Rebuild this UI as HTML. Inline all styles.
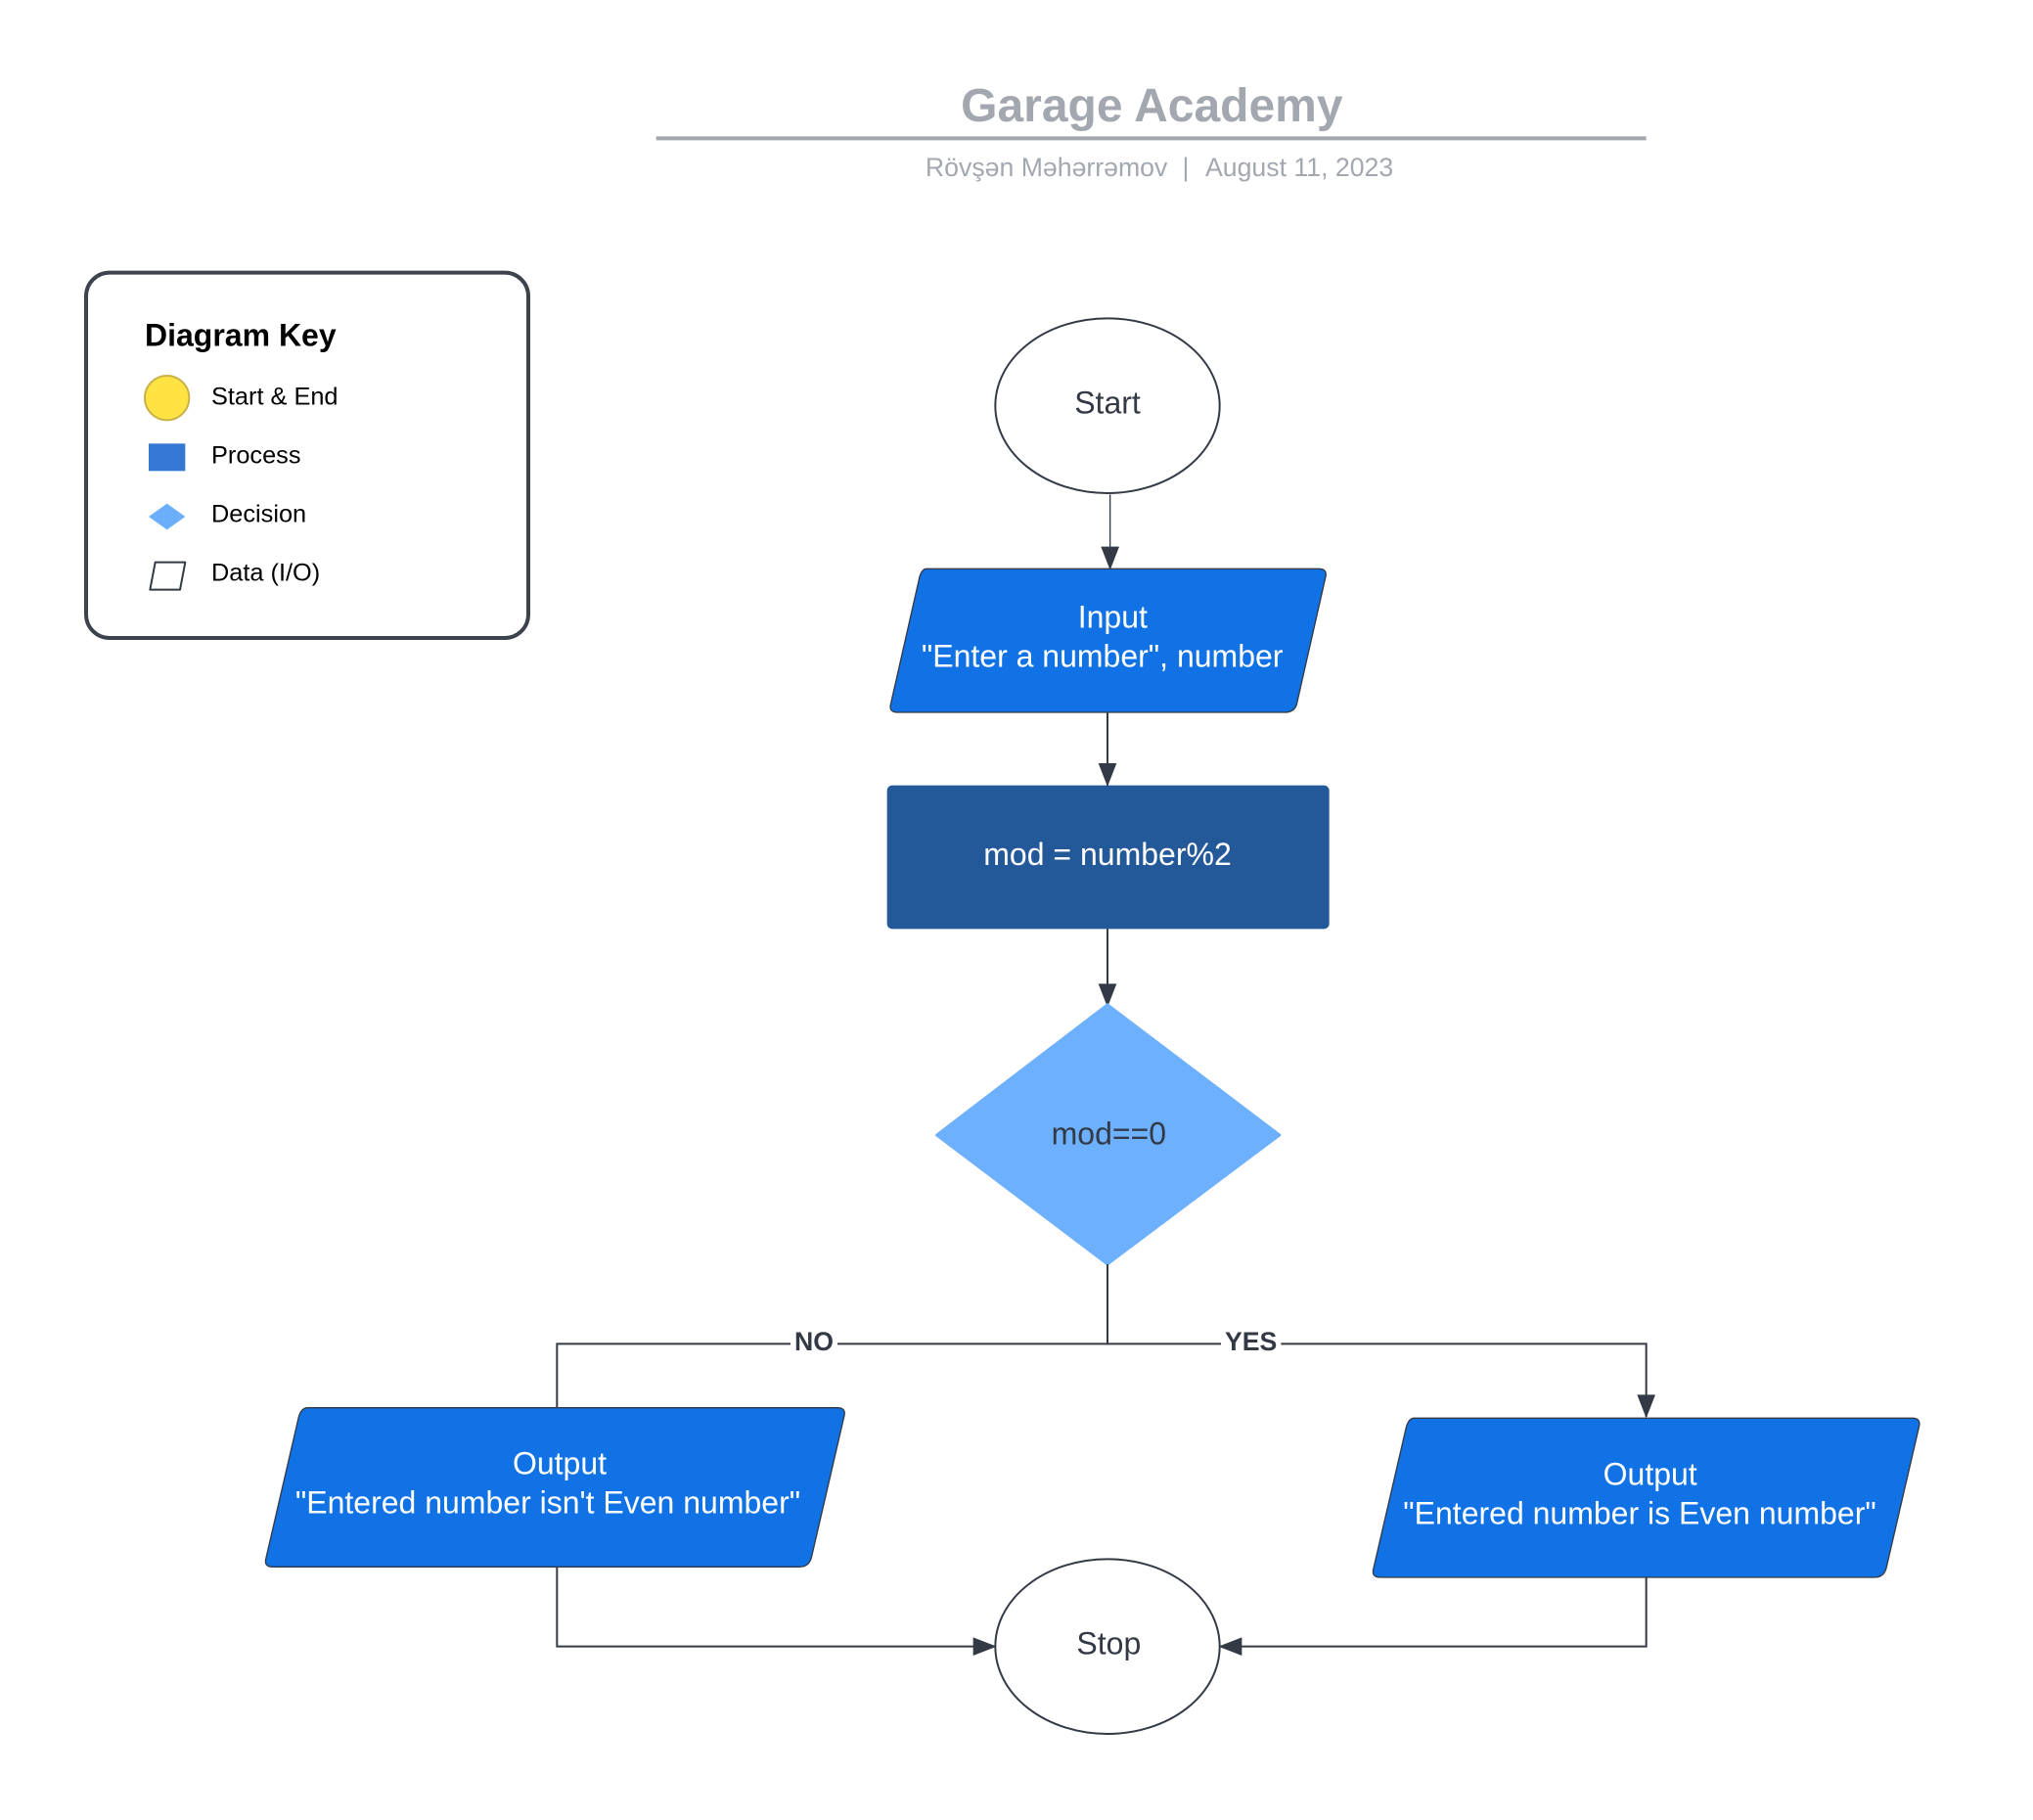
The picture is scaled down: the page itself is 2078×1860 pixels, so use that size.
<!DOCTYPE html>
<html><head><meta charset="utf-8"><style>html,body{margin:0;padding:0;background:#fff}svg{display:block}</style></head>
<body>
<svg width="2078" height="1860" viewBox="0 0 1558.5 1395" xmlns="http://www.w3.org/2000/svg" font-family="Liberation Sans, Arial, sans-serif">
<defs>
<marker id="a" markerWidth="20" markerHeight="14" refX="19" refY="7" orient="auto" markerUnits="userSpaceOnUse" viewBox="0 0 20 14">
<path d="M2,0 L20,7 L2,14 z" fill="#333a45"/></marker>
</defs>
<rect width="1558.5" height="1395" fill="#fff"/>
<text x="883" y="93" text-anchor="middle" font-size="36" font-weight="bold" fill="#a3a8b0">Garage Academy</text>
<line x1="503" y1="106" x2="1262" y2="106" stroke="#a3a8b0" stroke-width="3"/>
<text x="895" y="135" text-anchor="end" font-size="20" fill="#a3a8b0">Rövşən Məhərrəmov</text>
<text x="909" y="135" text-anchor="middle" font-size="20" fill="#a3a8b0">|</text>
<text x="924" y="135" font-size="20" fill="#a3a8b0">August 11, 2023</text>

<rect x="66" y="209" width="339" height="280" rx="18" fill="#fff" stroke="#3d434d" stroke-width="3"/>
<text x="111" y="265" font-size="24" font-weight="bold" fill="#000">Diagram Key</text>
<circle cx="128" cy="305" r="17" fill="#ffe342" stroke="#c9b24a" stroke-width="1.5"/>
<rect x="114" y="340" width="28" height="21" fill="#3478d4"/>
<path d="M128,386 L142,396 L128,406 L114,396 z" fill="#6aaefc"/>
<path d="M119,431 L142,431 L138,452 L115,452 z" fill="#fff" stroke="#333a45" stroke-width="1.5" stroke-linejoin="round"/>
<g font-size="19" fill="#000">
<text x="162" y="310">Start &amp; End</text>
<text x="162" y="355">Process</text>
<text x="162" y="400">Decision</text>
<text x="162" y="445">Data (I/O)</text>
</g>

<ellipse cx="849" cy="311" rx="86" ry="67" fill="#fff" stroke="#333a45" stroke-width="1.5"/>
<text x="849" y="317" text-anchor="middle" font-size="24" fill="#333a45">Start</text>
<line x1="851" y1="379" x2="851" y2="436" stroke="#333a45" stroke-width="1" marker-end="url(#a)"/>

<path d="M710,436 L1011,436 Q1018,436 1016,443 L994,540 Q992,546 985,546 L688,546 Q681,546 683,539 L705,442 Q707,436 710,436 z" fill="#1072e4" stroke="#333a45" stroke-width="1"/>
<text x="853" y="481" text-anchor="middle" font-size="24" fill="#fff">Input</text>
<text x="845" y="511" text-anchor="middle" font-size="24" fill="#fff">"Enter a number", number</text>
<line x1="849" y1="546" x2="849" y2="602" stroke="#333a45" stroke-width="1.5" marker-end="url(#a)"/>

<rect x="680" y="602" width="339" height="110" rx="4" fill="#245999"/>
<text x="849" y="663" text-anchor="middle" font-size="24" fill="#fff">mod = number%2</text>
<line x1="849" y1="712" x2="849" y2="771" stroke="#333a45" stroke-width="1.5" marker-end="url(#a)"/>

<path d="M849,770 L981,870 L849,969 L718,870 z" fill="#6db0fd" stroke="#6db0fd" stroke-width="2" stroke-linejoin="round"/>
<text x="850" y="877" text-anchor="middle" font-size="24" fill="#333a45">mod==0</text>

<path d="M849,969 L849,1030 L427,1030 L427,1079" fill="none" stroke="#333a45" stroke-width="1.5"/>
<path d="M849,1030 L1262,1030 L1262,1086" fill="none" stroke="#333a45" stroke-width="1.5" marker-end="url(#a)"/>
<rect x="606" y="1018" width="36" height="22" fill="#fff"/>
<text x="624" y="1035" text-anchor="middle" font-size="20" font-weight="bold" fill="#333a45">NO</text>
<rect x="936" y="1018" width="46" height="22" fill="#fff"/>
<text x="959" y="1035" text-anchor="middle" font-size="20" font-weight="bold" fill="#333a45">YES</text>

<path d="M236,1079 L642,1079 Q649,1079 647,1086 L622,1194 Q620,1201 613,1201 L209,1201 Q202,1201 204,1194 L229,1086 Q231,1079 236,1079 z" fill="#1072e4" stroke="#333a45" stroke-width="1"/>
<text x="429" y="1130" text-anchor="middle" font-size="24" fill="#fff">Output</text>
<text x="420" y="1160" text-anchor="middle" font-size="24" fill="#fff">"Entered number isn't Even number"</text>

<path d="M1084,1087 L1466,1087 Q1473,1087 1471,1094 L1446,1202 Q1444,1209 1437,1209 L1058,1209 Q1051,1209 1053,1202 L1078,1094 Q1080,1087 1084,1087 z" fill="#1072e4" stroke="#333a45" stroke-width="1"/>
<text x="1265" y="1138" text-anchor="middle" font-size="24" fill="#fff">Output</text>
<text x="1257" y="1168" text-anchor="middle" font-size="24" fill="#fff">"Entered number is Even number"</text>

<ellipse cx="849" cy="1262" rx="86" ry="67" fill="#fff" stroke="#333a45" stroke-width="1.5"/>
<text x="850" y="1268" text-anchor="middle" font-size="24" fill="#333a45">Stop</text>
<path d="M427,1201 L427,1262 L763,1262" fill="none" stroke="#333a45" stroke-width="1.5" marker-end="url(#a)"/>
<path d="M1262,1209 L1262,1262 L935,1262" fill="none" stroke="#333a45" stroke-width="1.5" marker-end="url(#a)"/>
</svg>
</body></html>
